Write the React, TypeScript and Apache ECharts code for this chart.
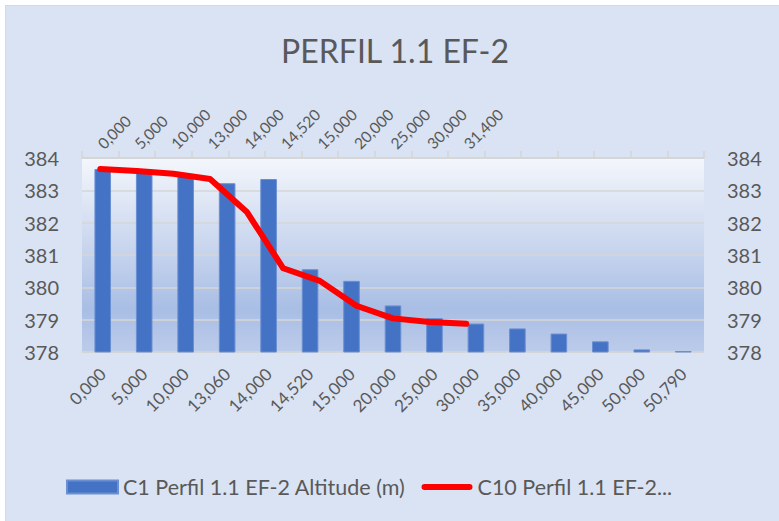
import React, { useEffect, useRef } from "react";
import * as echarts from "echarts";

const title = "PERFIL 1.1 EF-2";
const bottomCategories = ["0,000", "5,000", "10,000", "13,060", "14,000", "14,520", "15,000", "20,000", "25,000", "30,000", "35,000", "40,000", "45,000", "50,000", "50,790"];
const topCategories = ["0,000", "5,000", "10,000", "13,000", "14,000", "14,520", "15,000", "20,000", "25,000", "30,000", "31,400", "", "", "", "", "", ""];
const barName = "C1 Perfil 1.1 EF-2 Altitude (m)";
const lineName = "C10 Perfil 1.1 EF-2...";
const barValues = [383.66, 383.6, 383.48, 383.22, 383.35, 380.56, 380.2, 379.44, 379.05, 378.88, 378.73, 378.57, 378.33, 378.08, 378.03];
const lineValues = [383.66, 383.6, 383.51, 383.35, 382.34, 380.59, 380.2, 379.43, 379.04, 378.93, 378.87];
const yMin = 378;
const yMax = 384;

const FONT = "Lato";
const GREY = "#595959";

export default function App() {
  const ref = useRef<HTMLDivElement>(null);
  useEffect(() => {
    if (!ref.current) return;
    const chart = echarts.init(ref.current, null, { renderer: "svg" });
    const lineData = topCategories.map((_, i) => (i < lineValues.length ? lineValues[i] : null));
    chart.setOption({
      animation: false,
      textStyle: { fontFamily: FONT },
      title: {
        text: title,
        left: 384,
        top: 23,
        textAlign: "center",
        textStyle: { fontFamily: FONT, fontSize: 32, fontWeight: "normal", color: GREY },
      },
      legend: {
        left: 55,
        top: 465,
        itemWidth: 51,
        itemHeight: 13,
        itemGap: 16,
        textStyle: { fontFamily: FONT, fontSize: 21.5, color: GREY },
        data: [
          { name: barName, icon: "rect" },
          { name: lineName, icon: "path://M3 0 L47 0 A3 3 0 0 1 47 6 L3 6 A3 3 0 0 1 3 0 Z" },
        ],
      },
      grid: {
        left: 76,
        right: 75,
        top: 152,
        bottom: 169,
        show: true,
        borderWidth: 0,
        outerBoundsMode: "none",
        backgroundColor: new echarts.graphic.LinearGradient(0, 0, 0, 1, [
          { offset: 0, color: "#f4f7fc" },
          { offset: 0.45, color: "#c9d6ee" },
          { offset: 0.78, color: "#a9bee5" },
          { offset: 1, color: "#bccbea" },
        ]),
      },
      xAxis: [
        {
          type: "category",
          position: "bottom",
          data: bottomCategories,
          axisLine: { show: true, lineStyle: { color: "#d4d4d4", width: 1.5 } },
          axisTick: { show: false },
          axisLabel: { interval: 0, rotate: 45, margin: 19, fontFamily: FONT, fontSize: 17, color: GREY },
        },
        {
          type: "category",
          position: "top",
          data: topCategories,
          axisLine: { show: true, lineStyle: { color: "#d4d4d4", width: 1.5 } },
          axisTick: { show: true, length: 7, lineStyle: { color: "#d4d4d4", width: 1.5 } },
          axisLabel: { interval: 0, rotate: -45, margin: 12, fontFamily: FONT, fontSize: 15.5, color: GREY },
        },
      ],
      yAxis: [
        {
          type: "value",
          position: "left",
          min: yMin,
          max: yMax,
          interval: 1,
          axisLine: { show: false },
          axisTick: { show: false },
          splitLine: { show: true, lineStyle: { color: "#d6d6d6", width: 1.5 } },
          axisLabel: { margin: 23, fontFamily: FONT, fontSize: 20, color: GREY },
        },
        {
          type: "value",
          position: "right",
          min: yMin,
          max: yMax,
          interval: 1,
          axisLine: { show: false },
          axisTick: { show: false },
          splitLine: { show: false },
          axisLabel: { margin: 23, fontFamily: FONT, fontSize: 20, color: GREY },
        },
      ],
      series: [
        {
          name: barName,
          type: "bar",
          xAxisIndex: 0,
          yAxisIndex: 0,
          data: barValues,
          barWidth: "40%",
          itemStyle: { color: "#4472c4", borderColor: "#6a8fd2", borderWidth: 1 },
        },
        {
          name: lineName,
          type: "line",
          xAxisIndex: 1,
          yAxisIndex: 1,
          data: lineData,
          symbol: "none",
          color: "#ff0000",
          lineStyle: { color: "#ff0000", width: 6, cap: "round", join: "round" },
          itemStyle: { color: "#ff0000" },
        },
      ],
    });
    return () => chart.dispose();
  }, []);
  return (
    <div style={{ position: "fixed", left: 0, top: 0, width: 779, height: 521, background: "#ffffff", overflow: "hidden" }}>
      <div
        style={{
          position: "absolute",
          left: 5,
          top: 5,
          width: 773,
          height: 515,
          background: "#dae3f3",
          borderTop: "1px solid #d9d9d9",
          borderLeft: "1px solid #d9d9d9",
        }}
      >
        <div ref={ref} style={{ width: 773, height: 515 }} />
      </div>
    </div>
  );
}
